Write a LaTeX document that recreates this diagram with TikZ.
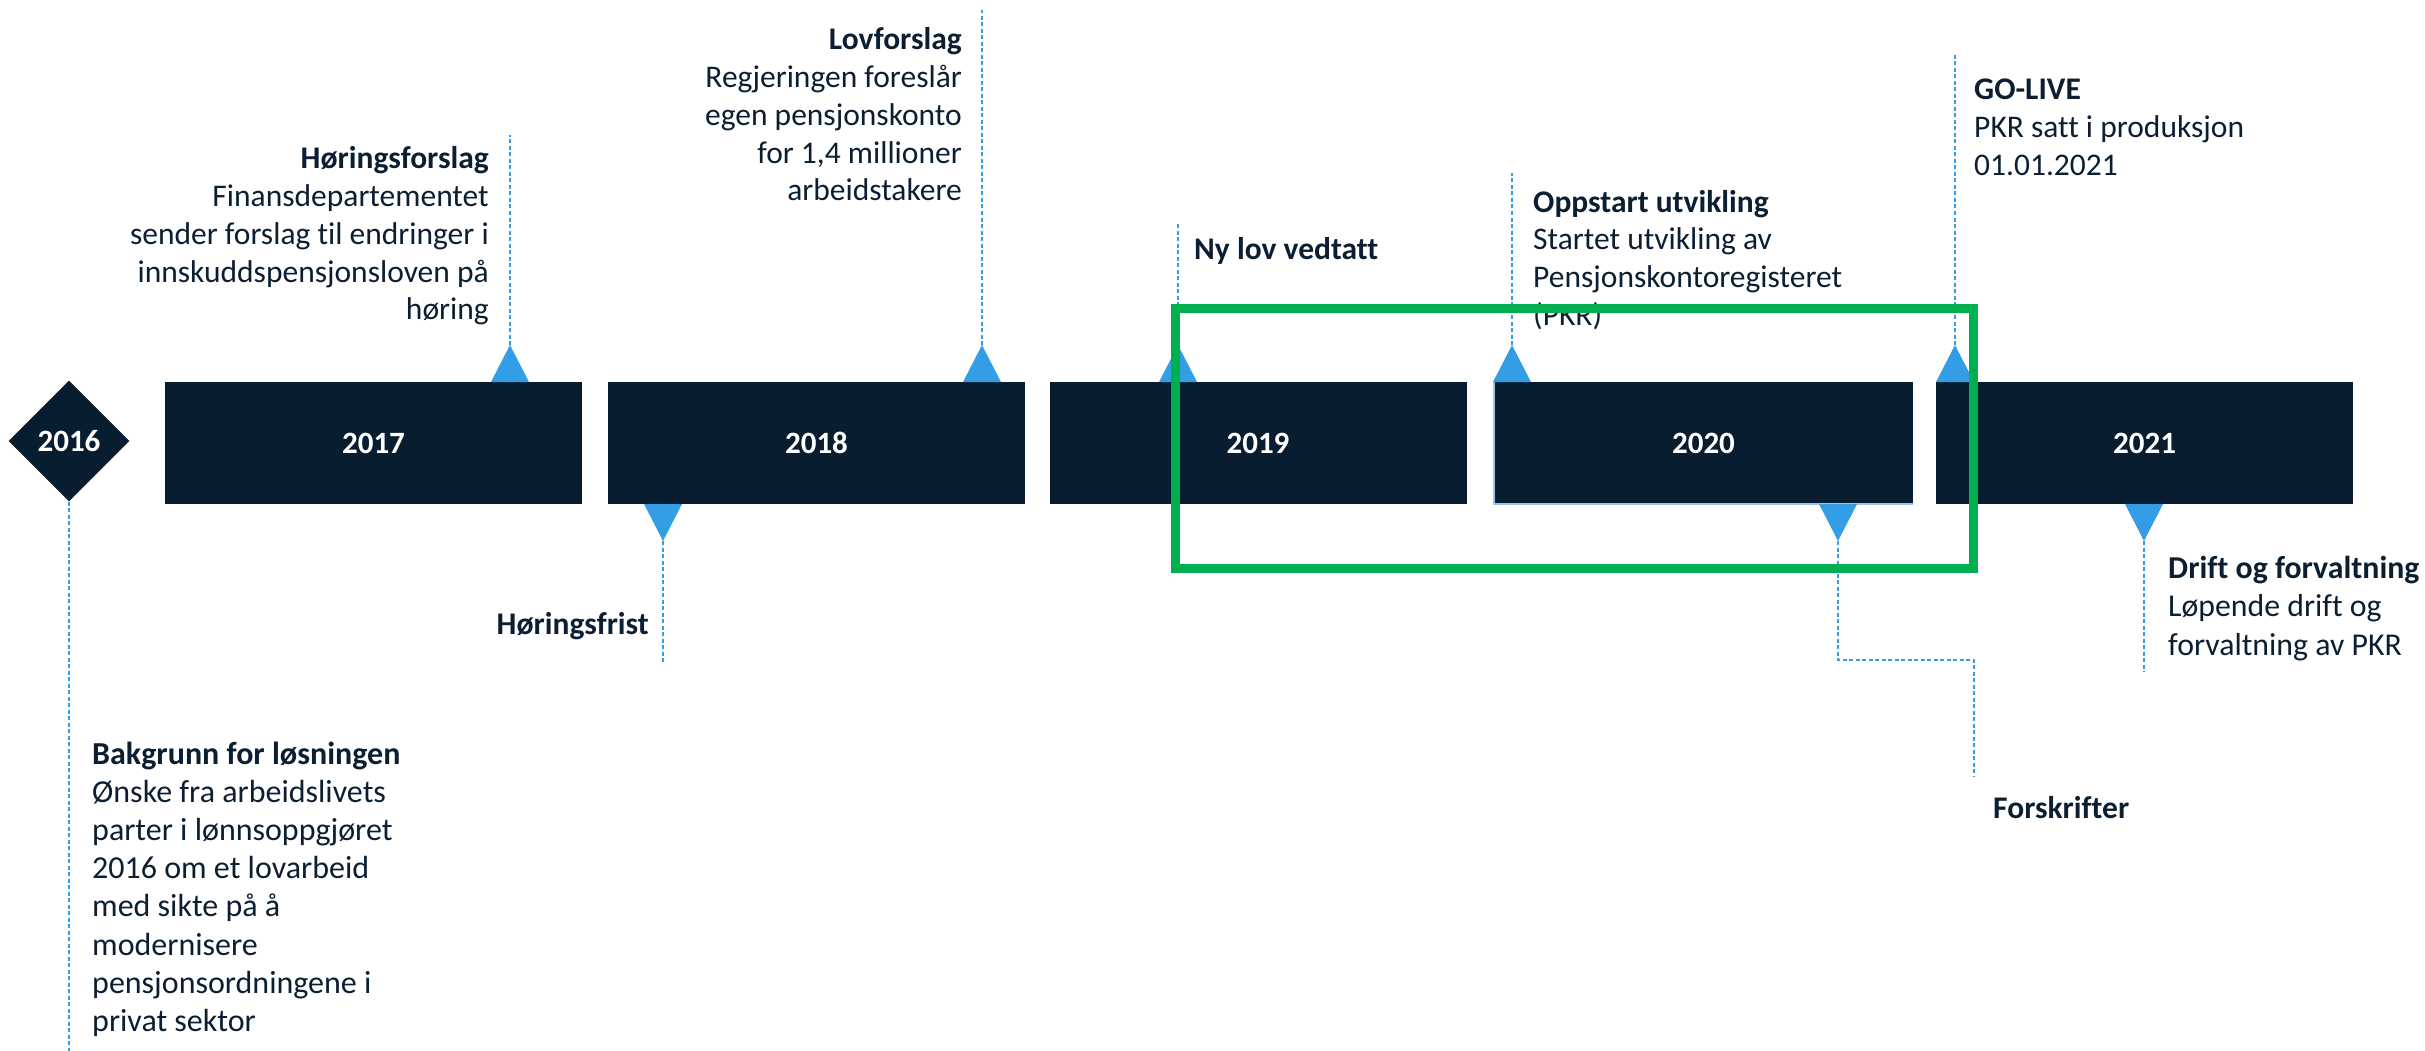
\documentclass[tikz,border=0pt]{standalone}
\usepackage{fontspec}
\setmainfont{Carlito}[Ligatures={NoCommon,NoRare}]
\usetikzlibrary{shapes.geometric}
\definecolor{navy}{RGB}{8,30,48}
\definecolor{ink}{RGB}{12,31,50}
\definecolor{tri}{RGB}{51,157,229}
\definecolor{grn}{RGB}{0,176,80}
\definecolor{edgeblue}{RGB}{157,195,230}
\begin{document}
\begin{tikzpicture}[x=1pt,y=-1pt,
  yearbar/.style={fill=navy, minimum width=417pt, minimum height=122pt, inner sep=0pt, text=white, font=\fontsize{31}{37.5}\selectfont\bfseries},
  yeardiamond/.style={diamond, aspect=1, fill=navy, minimum width=121pt, minimum height=121pt, inner sep=0pt, text=white, font=\fontsize{31}{37.5}\selectfont\bfseries},
  marker/.style={fill=tri},
  guide/.style={draw=tri, line width=1.3pt, dash pattern=on 4pt off 2.5pt},
  lbl/.style={inner sep=0pt, text=ink, font=\fontsize{31.5}{37.7}\selectfont},
  focusbox/.style={draw=grn, line width=9pt, inner sep=0pt}
]
\useasboundingbox (0,0) rectangle (2425,1051);

% year nodes
\node[yeardiamond] (y2016) at (69,441) {2016};
\node[yearbar] (y2017) at (373.5,443) {2017};
\node[yearbar] (y2018) at (816.5,443) {2018};
\node[yearbar] (y2019) at (1258,443) {2019};
\node[yearbar, minimum width=419pt] (y2020) at (1703.5,443) {2020};
\node[yearbar] (y2021) at (2144.5,443) {2021};
\draw[edgeblue, line width=1.5pt] (y2020.north west) -- (y2020.south west) -- (y2020.south east);

% marker apexes and guide ends
\coordinate (m1) at (510,345);  \coordinate (m1end) at (510,135);
\coordinate (m2) at (982,345);  \coordinate (m2end) at (982,10);
\coordinate (m3) at (1178,345); \coordinate (m3end) at (1178,222);
\coordinate (m4) at (1512,345); \coordinate (m4end) at (1512,173);
\coordinate (m5) at (1955,345); \coordinate (m5end) at (1955,55);
\coordinate (d1) at (663,541);  \coordinate (d1end) at (663,663);
\coordinate (d2) at (1838,541); \coordinate (d2a) at (1838,660); \coordinate (d2b) at (1974,660); \coordinate (d2end) at (1974,777);
\coordinate (d3) at (2144,541); \coordinate (d3end) at (2144,672);
\coordinate (y2016end) at (69,1051);

% guides
\draw[guide] (y2016.south) -- (y2016end);
\draw[guide] (m1) -- (m1end);
\draw[guide] (m2) -- (m2end);
\draw[guide] (m3) -- (m3end);
\draw[guide] (m4) -- (m4end);
\draw[guide] (m5) -- (m5end);
\draw[guide] (d1) -- (d1end);
\draw[guide] (d2) -- (d2a) -- (d2b) -- (d2end);
\draw[guide] (d3) -- (d3end);

% markers
\foreach \m in {m1,m2,m3,m4,m5}
  \fill[marker] (\m) -- ++(-19,37) -- ++(38,0) -- cycle;
\foreach \m in {d1,d2,d3}
  \fill[marker] (\m) -- ++(-19,-37) -- ++(38,0) -- cycle;

% labels
\node[lbl, anchor=base east] (t1) at (489,169) {\parbox[t]{500pt}{\raggedleft\textbf{Høringsforslag}\\Finansdepartementet\\sender forslag til endringer i\\innskuddspensjonsloven på\\høring}};
\node[lbl, anchor=base east] (t2) at (962,50) {\parbox[t]{400pt}{\raggedleft\textbf{Lovforslag}\\Regjeringen foreslår\\egen pensjonskonto\\for 1,4 millioner\\arbeidstakere}};
\node[lbl, anchor=base west] (t3) at (1194,259) {\textbf{Ny lov vedtatt}};
\node[lbl, anchor=base west] (t4) at (1533,212) {\parbox[t]{400pt}{\raggedright\textbf{Oppstart utvikling}\\Startet utvikling av\\Pensjonskontoregisteret\\(PKR)}};
\node[lbl, anchor=base west] (t5) at (1974,100) {\parbox[t]{400pt}{\raggedright\textbf{GO-LIVE}\\PKR satt i produksjon\\01.01.2021}};
\node[lbl, anchor=base east] (t6) at (649,634) {\textbf{Høringsfrist}};
\node[lbl, anchor=base west] (t7) at (1993,818) {\textbf{Forskrifter}};
\node[lbl, anchor=base west] (t8) at (2168,578) {\fontsize{31.8}{38.5}\selectfont\parbox[t]{400pt}{\raggedright\textbf{Drift og forvaltning}\\Løpende drift og\\forvaltning av PKR}};
\node[lbl, anchor=base west] (t9) at (92,764) {\fontsize{32}{38.2}\selectfont\parbox[t]{400pt}{\raggedright\textbf{Bakgrunn for løsningen}\\Ønske fra arbeidslivets\\parter i lønnsoppgjøret\\2016 om et lovarbeid\\med sikte på å\\modernisere\\pensjonsordningene i\\privat sektor}};

% focus frame
\node[focusbox, minimum width=798pt, minimum height=260pt] (focus) at (1574,438) {};
\end{tikzpicture}
\end{document}
